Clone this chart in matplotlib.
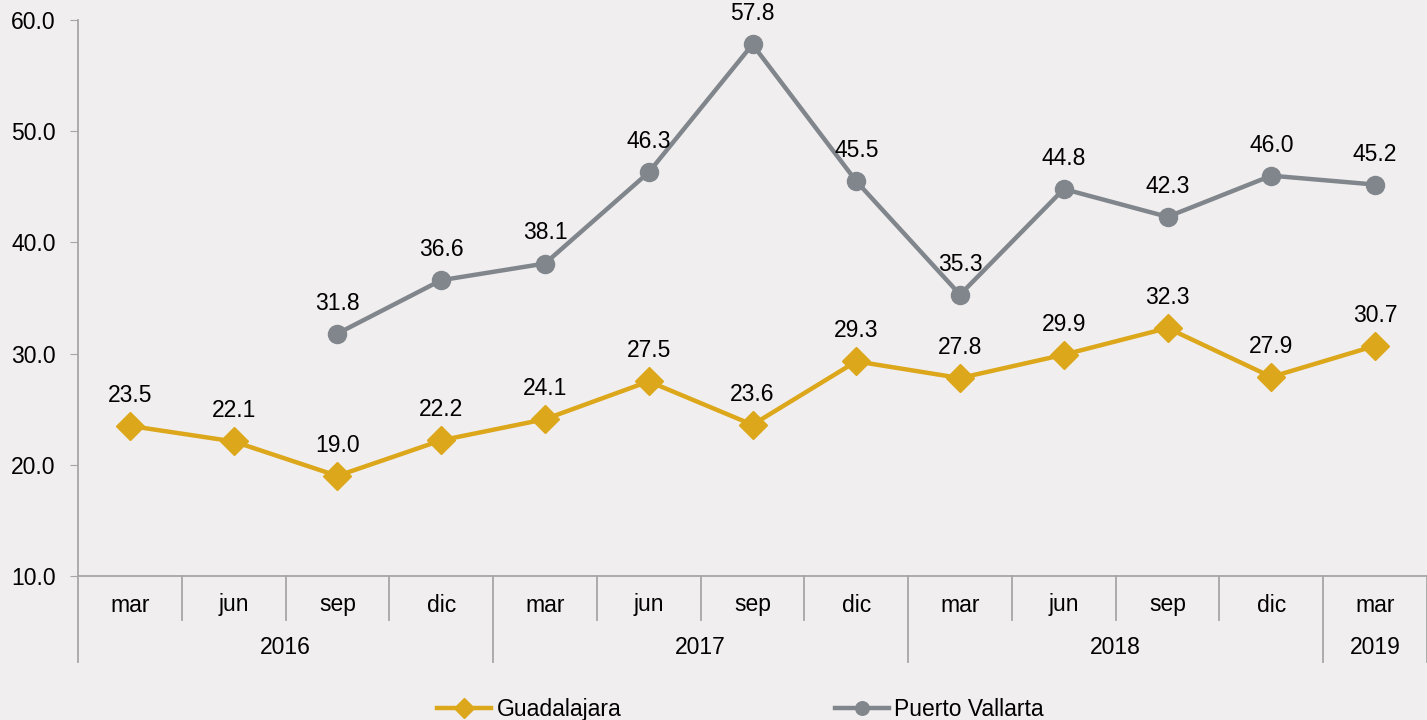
import matplotlib.pyplot as plt
import matplotlib.transforms as mtransforms
import numpy as np

plt.rcParams['font.family'] = ['Liberation Sans', 'DejaVu Sans']

months = ["mar", "jun", "sep", "dic", "mar", "jun", "sep", "dic",
          "mar", "jun", "sep", "dic", "mar"]
years = ["2016", "2017", "2018", "2019"]
year_sizes = [4, 4, 4, 1]

guadalajara = [23.5, 22.1, 19.0, 22.2, 24.1, 27.5, 23.6, 29.3, 27.8, 29.9, 32.3, 27.9, 30.7]
# Puerto Vallarta starts in sep 2016
vallarta_start = 2
vallarta = [31.8, 36.6, 38.1, 46.3, 57.8, 45.5, 35.3, 44.8, 42.3, 46.0, 45.2]

bg = "#F0EEEF"
gold = "#DCA71B"
grey = "#80868B"
axis_col = "#A6A6A6"
fs = 16.5

fig = plt.figure(figsize=(14.27, 7.2), dpi=100, facecolor=bg)
ax = fig.add_axes([78 / 1427, 144 / 720, 1 - 78 / 1427, 556 / 720])
ax.set_facecolor(bg)

x_g = np.arange(len(guadalajara))
x_v = np.arange(vallarta_start, vallarta_start + len(vallarta))

ax.plot(x_g, guadalajara, color=gold, lw=3.2, marker="D", markersize=14,
        label="Guadalajara", zorder=3)
ax.plot(x_v, vallarta, color=grey, lw=3.2, marker="o", markersize=13,
        label="Puerto Vallarta", zorder=3)

for xs, ys in ((x_g, guadalajara), (x_v, vallarta)):
    for xi, yi in zip(xs, ys):
        ax.annotate(f"{yi:.1f}", (xi, yi), xytext=(0, 22), textcoords="offset points",
                    ha="center", va="center", fontsize=fs, color="black")

ax.set_xlim(-0.5, len(months) - 0.5)
ax.set_ylim(10, 60)
ax.set_yticks(np.arange(10, 61, 10))
ax.set_yticklabels([f"{v:.1f}" for v in np.arange(10, 61, 10)], fontsize=fs)
ax.tick_params(axis="y", length=6, color=axis_col, pad=10)
ax.set_xticks([])

for s in ("top", "right"):
    ax.spines[s].set_visible(False)
for s in ("left", "bottom"):
    ax.spines[s].set_color(axis_col)
    ax.spines[s].set_linewidth(1.3)

# two-level category axis
trans = mtransforms.blended_transform_factory(ax.transData, ax.transAxes)
ax_h = 556
month_len = 44 / ax_h
year_len = 86 / ax_h

for i, m in enumerate(months):
    ax.text(i, -29 / ax_h, m, transform=trans, ha="center", va="center", fontsize=fs)

pos = -0.5
bounds = [pos]
for y, n in zip(years, year_sizes):
    ax.text(pos + n / 2, -72 / ax_h, y, transform=trans, ha="center", va="center",
            fontsize=fs)
    pos += n
    bounds.append(pos)

for b in np.arange(0.5, len(months) - 0.5, 1.0):
    if b not in bounds:
        ax.plot([b, b], [0, -month_len], transform=trans, color=axis_col, lw=1.3,
                clip_on=False)
for b in bounds:
    ax.plot([b, b], [0, -year_len], transform=trans, color=axis_col, lw=1.3,
            clip_on=False)

fig.legend(loc="center", bbox_to_anchor=(0.519, 0.015), ncol=2, frameon=False,
           fontsize=fs, handlelength=2.35, handletextpad=0.25, columnspacing=9.3,
           markerscale=0.75)

fig.savefig("out.png", dpi=100, facecolor=bg)
